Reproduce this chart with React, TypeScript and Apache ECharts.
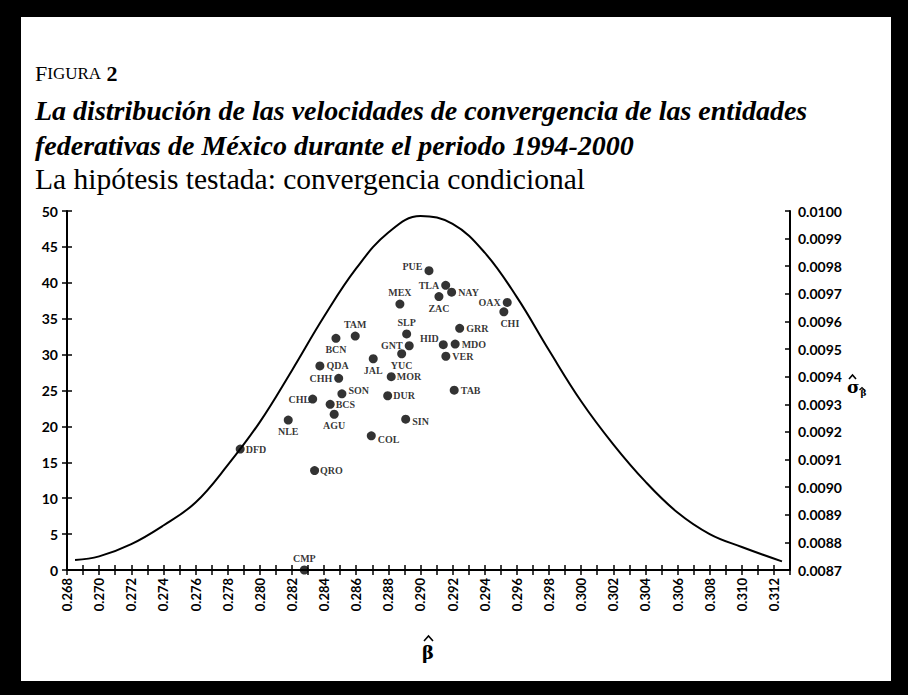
import React, { useEffect, useRef } from 'react';
import * as echarts from 'echarts';

// Entities (state codes)
const stateCodes = ['PUE', 'TLA', 'NAY', 'MEX', 'ZAC', 'OAX', 'CHI', 'TAM', 'SLP', 'GRR', 'BCN', 'GNT', 'HID', 'MDO', 'JAL', 'YUC', 'VER', 'QDA', 'MOR', 'CHH', 'TAB', 'SON', 'CHL', 'DUR', 'BCS', 'AGU', 'NLE', 'SIN', 'COL', 'DFD', 'QRO', 'CMP'];
// beta-hat (x)
const betaHat = [0.29053, 0.29157, 0.29194, 0.28872, 0.29115, 0.2954, 0.29519, 0.28594, 0.28914, 0.29244, 0.28474, 0.2893, 0.29142, 0.29216, 0.28706, 0.28883, 0.29158, 0.28374, 0.28818, 0.28491, 0.2921, 0.28511, 0.28329, 0.28796, 0.28438, 0.28463, 0.28177, 0.28908, 0.28694, 0.27878, 0.28341, 0.28277];
// sigma-hat of beta-hat (right axis)
const sigmaHat = [0.009784, 0.009731, 0.009706, 0.009663, 0.00969, 0.009669, 0.009635, 0.009547, 0.009555, 0.009575, 0.009539, 0.009512, 0.009516, 0.009518, 0.009465, 0.009483, 0.009474, 0.009439, 0.0094, 0.009394, 0.009351, 0.009338, 0.009319, 0.009331, 0.0093, 0.009264, 0.009243, 0.009246, 0.009186, 0.009138, 0.00906, 0.0087];
// density curve (left axis)
const curveBeta = [0.2685, 0.270, 0.272, 0.274, 0.276, 0.278, 0.280, 0.282, 0.284, 0.286, 0.288, 0.290, 0.292, 0.294, 0.296, 0.298, 0.300, 0.302, 0.304, 0.306, 0.308, 0.310, 0.3125];
const curveDensity = [1.4, 1.9, 3.6, 6.2, 9.4, 14.6, 20.6, 27.8, 35.3, 42.0, 47.0, 49.3, 48.2, 44.2, 38.0, 30.6, 23.5, 17.5, 12.3, 8.0, 5.0, 3.2, 1.2];
// tick labels
const leftTicks = [0, 5, 10, 15, 20, 25, 30, 35, 40, 45, 50];
const rightTickLabels = ['0.0087', '0.0088', '0.0089', '0.0090', '0.0091', '0.0092', '0.0093', '0.0094', '0.0095', '0.0096', '0.0097', '0.0098', '0.0099', '0.0100'];

const labelPlacement: Record<string, { position: string; offset?: number[]; distance?: number }> = {
  PUE: { position: 'left', offset: [0, -4] },
  TLA: { position: 'left' },
  NAY: { position: 'right' },
  MEX: { position: 'top' },
  ZAC: { position: 'bottom' },
  OAX: { position: 'left' },
  CHI: { position: 'bottom', offset: [6, 0] },
  TAM: { position: 'top' },
  SLP: { position: 'top' },
  GRR: { position: 'right' },
  BCN: { position: 'bottom' },
  GNT: { position: 'left' },
  HID: { position: 'left', offset: [2, -6] },
  MDO: { position: 'right' },
  JAL: { position: 'bottom' },
  YUC: { position: 'bottom' },
  VER: { position: 'right' },
  QDA: { position: 'right' },
  MOR: { position: 'right', distance: 1 },
  CHH: { position: 'left' },
  TAB: { position: 'right' },
  SON: { position: 'right', offset: [0, -3] },
  CHL: { position: 'left', distance: -2 },
  DUR: { position: 'right', distance: 1 },
  BCS: { position: 'right', distance: 1 },
  AGU: { position: 'bottom' },
  NLE: { position: 'bottom' },
  SIN: { position: 'right', offset: [0, 2] },
  COL: { position: 'right', offset: [0, 4] },
  DFD: { position: 'right', distance: 1 },
  QRO: { position: 'right', distance: 1 },
  CMP: { position: 'top' },
};

const AXIS_FONT = 'Lato';
const SERIF = 'Liberation Serif';

export default function App() {
  const ref = useRef<HTMLDivElement>(null);
  useEffect(() => {
    document.body.style.margin = '0';
    if (!ref.current) return;
    const chart = echarts.init(ref.current, undefined, { renderer: 'svg' });
    const xFormatter = (v: number) => {
      const k = Math.round(v * 1000);
      if (k % 2 !== 0 || k > 312) return '';
      return (k / 1000).toFixed(3);
    };
    const scatterData = stateCodes.map((code, i) => {
      const p = labelPlacement[code] || { position: 'right' };
      return {
        name: code,
        value: [betaHat[i], sigmaHat[i]],
        label: { position: p.position, offset: p.offset || [0, 0], distance: p.distance ?? 2 },
      };
    });
    const hatStyle = { stroke: '#000', lineWidth: 1.6, fill: 'none' };
    const option: any = {
      animation: false,
      backgroundColor: '#000',
      grid: { left: 67, right: 118, top: 211, bottom: 125, containLabel: false },
      xAxis: [
        {
          type: 'value', position: 'bottom', min: 0.268, max: 0.313, interval: 0.001,
          axisLine: { onZero: false, lineStyle: { color: '#000', width: 2 } },
          axisTick: { inside: false, length: 5, lineStyle: { color: '#000', width: 1.5 } },
          axisLabel: { rotate: 90, formatter: xFormatter, color: '#000', fontFamily: AXIS_FONT, fontWeight: 'bold', fontSize: 13, margin: 8 },
          splitLine: { show: false },
        },
        {
          type: 'value', position: 'bottom', min: 0.268, max: 0.313, interval: 0.001,
          axisLine: { show: false, onZero: false },
          axisTick: { inside: true, length: 5, lineStyle: { color: '#000', width: 1.5 } },
          axisLabel: { show: false },
          splitLine: { show: false },
        },
      ],
      yAxis: [
        {
          type: 'value', position: 'left', min: leftTicks[0], max: leftTicks[leftTicks.length - 1], interval: 5,
          axisLine: { show: true, onZero: false, lineStyle: { color: '#000', width: 2 } },
          axisTick: { show: true, inside: false, length: 5, lineStyle: { color: '#000', width: 1.5 } },
          axisLabel: { color: '#000', fontFamily: AXIS_FONT, fontWeight: 'bold', fontSize: 14, margin: 9 },
          splitLine: { show: false },
        },
        {
          type: 'value', position: 'right', min: 0.0087, max: 0.01, interval: 0.0001,
          axisLine: { show: true, onZero: false, lineStyle: { color: '#000', width: 2 } },
          axisTick: { show: true, inside: true, length: 5, lineStyle: { color: '#000', width: 1.5 } },
          axisLabel: {
            color: '#000', fontFamily: AXIS_FONT, fontWeight: 'bold', fontSize: 14, margin: 8,
            formatter: (v: number) => {
              const idx = Math.round((v - 0.0087) / 0.0001);
              return rightTickLabels[idx] ?? '';
            },
          },
          splitLine: { show: false },
        },
        {
          type: 'value', position: 'left', min: 0, max: 50, interval: 5,
          axisLine: { show: false, onZero: false },
          axisTick: { show: true, inside: true, length: 5, lineStyle: { color: '#000', width: 1.5 } },
          axisLabel: { show: false },
          splitLine: { show: false },
        },
      ],
      series: [
        {
          type: 'line', xAxisIndex: 0, yAxisIndex: 0, smooth: 0.4, showSymbol: false, symbol: 'none',
          lineStyle: { color: '#000', width: 2 },
          data: curveBeta.map((b, i) => [b, curveDensity[i]]),
          z: 3,
        },
        {
          type: 'scatter', xAxisIndex: 0, yAxisIndex: 1, symbol: 'circle', symbolSize: 9,
          itemStyle: { color: '#000' },
          label: { show: true, formatter: '{b}', color: '#000', fontFamily: SERIF, fontWeight: 'bold', fontSize: 10 },
          data: scatterData,
          z: 4,
        },
      ],
      graphic: [
        { type: 'rect', z: -10, shape: { x: 21, y: 17, width: 870, height: 664 }, style: { fill: '#fff' } },
        {
          type: 'text', x: 35, y: 73, z: 10,
          style: {
            text: '{a|F}{b|IGURA}{c| 2}', textVerticalAlign: 'middle', fill: '#000',
            rich: {
              a: { fontFamily: SERIF, fontSize: 22, fill: '#000' },
              b: { fontFamily: SERIF, fontSize: 17, fill: '#000' },
              c: { fontFamily: SERIF, fontSize: 22, fontWeight: 'bold', fill: '#000' },
            },
          },
        },
        {
          type: 'text', x: 35, y: 110, z: 10,
          style: { text: 'La distribución de las velocidades de convergencia de las entidades', fontFamily: SERIF, fontSize: 28, fontStyle: 'italic', fontWeight: 'bold', fill: '#000', textVerticalAlign: 'middle' },
        },
        {
          type: 'text', x: 35, y: 145, z: 10,
          style: { text: 'federativas de México durante el periodo 1994-2000', fontFamily: SERIF, fontSize: 28, fontStyle: 'italic', fontWeight: 'bold', fill: '#000', textVerticalAlign: 'middle' },
        },
        {
          type: 'text', x: 35, y: 179, z: 10,
          style: { text: 'La hipótesis testada: convergencia condicional', fontFamily: SERIF, fontSize: 29.5, fill: '#000', textVerticalAlign: 'middle' },
        },
        // x-axis name: beta-hat
        {
          type: 'text', x: 428, y: 652, z: 10,
          style: { text: 'β', fontFamily: 'DejaVu Serif', fontSize: 18, fontWeight: 'bold', fill: '#000', textAlign: 'center', textVerticalAlign: 'middle' },
        },
        { type: 'polyline', z: 10, shape: { points: [[424, 641], [428.5, 636], [433, 641]] }, style: hatStyle },
        // right axis name: sigma-hat sub beta-hat
        {
          type: 'text', x: 847, y: 387, z: 10,
          style: {
            text: '{s|σ}{t|β}', fill: '#000', textVerticalAlign: 'middle',
            rich: {
              s: { fontFamily: 'DejaVu Serif', fontSize: 17, fontWeight: 'bold', fill: '#000' },
              t: { fontFamily: 'DejaVu Serif', fontSize: 9, fontWeight: 'bold', fill: '#000', padding: [12, 0, 0, 1] },
            },
          },
        },
        { type: 'polyline', z: 10, shape: { points: [[849, 379], [852.5, 375], [856, 379]] }, style: hatStyle },
        { type: 'polyline', z: 10, shape: { points: [[859.5, 390], [862, 387.5], [864.5, 390]] }, style: { stroke: '#000', lineWidth: 1.2, fill: 'none' } },
      ],
    };
    chart.setOption(option);
    return () => chart.dispose();
  }, []);
  return <div ref={ref} style={{ width: 908, height: 695 }} />;
}
